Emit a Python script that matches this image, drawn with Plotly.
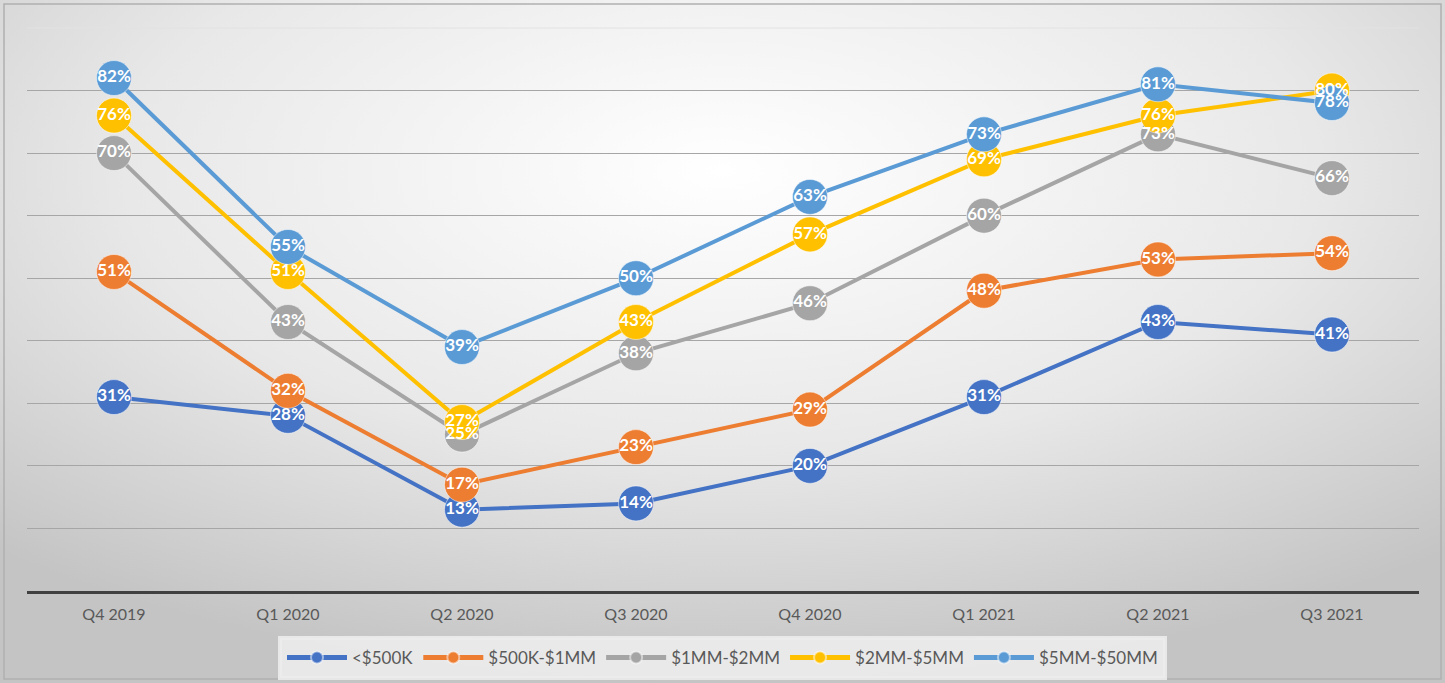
import plotly.graph_objects as go

QUARTERS = ["Q4 2019", "Q1 2020", "Q2 2020", "Q3 2020", "Q4 2020", "Q1 2021", "Q2 2021", "Q3 2021"]

UNDER_500K = [31, 28, 13, 14, 20, 31, 43, 41]
K500_1MM = [51, 32, 17, 23, 29, 48, 53, 54]
MM1_2MM = [70, 43, 25, 38, 46, 60, 73, 66]
MM2_5MM = [76, 51, 27, 43, 57, 69, 76, 80]
MM5_50MM = [82, 55, 39, 50, 63, 73, 81, 78]

SERIES = [
    ("<$500K", UNDER_500K, "#4472C4"),
    ("$500K-$1MM", K500_1MM, "#ED7D31"),
    ("$1MM-$2MM", MM1_2MM, "#A5A5A5"),
    ("$2MM-$5MM", MM2_5MM, "#FFC000"),
    ("$5MM-$50MM", MM5_50MM, "#5B9BD5"),
]

W, H = 1445, 683
PLOT_W, PLOT_H = 1392, 563

GRADIENT_SVG = (
    "data:image/svg+xml;utf8,"
    "<svg xmlns='http://www.w3.org/2000/svg' width='1445' height='683' preserveAspectRatio='none'>"
    "<defs><radialGradient id='g' cx='50%' cy='25%' r='75%'>"
    "<stop offset='0' stop-color='%23ffffff'/>"
    "<stop offset='0.55' stop-color='%23e8e8e8'/>"
    "<stop offset='1' stop-color='%23c4c4c4'/>"
    "</radialGradient></defs>"
    "<rect width='100%' height='100%' fill='url(%23g)'/></svg>"
)

fig = go.Figure()

# lines and markers first
for name, values, color in SERIES:
    fig.add_trace(
        go.Scatter(
            x=QUARTERS,
            y=[v / 100 for v in values],
            name=name,
            mode="lines+markers",
            line={"color": color, "width": 4},
            marker={"size": 35, "color": color, "line": {"color": "rgba(255,255,255,0.5)", "width": 1}},
            cliponaxis=False,
        )
    )

# data labels drawn above every marker, like Excel does
for name, values, color in SERIES:
    fig.add_trace(
        go.Scatter(
            x=QUARTERS,
            y=[v / 100 for v in values],
            mode="text",
            text=[f"{v}%" for v in values],
            textposition="middle center",
            textfont={"family": "Lato, sans-serif", "size": 17, "color": "white", "weight": "bold"},
            showlegend=False,
            hoverinfo="skip",
            cliponaxis=False,
        )
    )

fig.update_layout(
    width=W,
    height=H,
    margin=dict(l=27, r=26, t=28, b=92, autoexpand=False),
    paper_bgcolor="#d4d4d4",
    plot_bgcolor="rgba(0,0,0,0)",
    font={"family": "Lato, sans-serif", "color": "#595959"},
    showlegend=True,
    legend={
        "orientation": "h",
        "x": 0.5,
        "xanchor": "center",
        "xref": "container",
        "y": 1 - 658 / H,
        "yanchor": "middle",
        "yref": "container",
        "bgcolor": "rgba(236,236,236,0.9)",
        "bordercolor": "rgba(236,236,236,0.9)",
        "borderwidth": 4,
        "font": {"size": 17, "color": "#595959"},
        "itemwidth": 60,
        "itemsizing": "constant",
        "traceorder": "normal",
    },
    images=[
        dict(
            source=GRADIENT_SVG,
            xref="paper",
            yref="paper",
            x=-27 / PLOT_W,
            y=1 + 28 / PLOT_H,
            sizex=W / PLOT_W,
            sizey=H / PLOT_H,
            sizing="stretch",
            layer="below",
            xanchor="left",
            yanchor="top",
        )
    ],
    shapes=[
        dict(
            type="rect",
            xref="paper",
            yref="paper",
            x0=-23 / PLOT_W,
            x1=1 + 22 / PLOT_W,
            y0=-88 / PLOT_H,
            y1=1 + 24 / PLOT_H,
            line={"color": "#b0b0b0", "width": 1.5},
            layer="below",
        ),
        # faint top gridline at 90%
        dict(
            type="line",
            xref="paper",
            yref="paper",
            x0=0,
            x1=1,
            y0=1,
            y1=1,
            line={"color": "#e2e2e2", "width": 1},
            layer="below",
        ),
    ],
)

fig.update_xaxes(
    type="category",
    range=[-0.5, 7.5],
    showgrid=False,
    showline=True,
    linecolor="#404040",
    linewidth=3,
    ticks="",
    tickfont={"size": 16, "color": "#595959"},
    ticklabelstandoff=7,
)
fig.update_yaxes(
    range=[0, 0.9],
    dtick=0.1,
    showgrid=True,
    gridcolor="#a6a6a6",
    gridwidth=1,
    showticklabels=False,
    zeroline=False,
)

fig.write_html(
    "out.html",
    config={"displayModeBar": False},
    post_script="document.body.style.margin='0';",
)
